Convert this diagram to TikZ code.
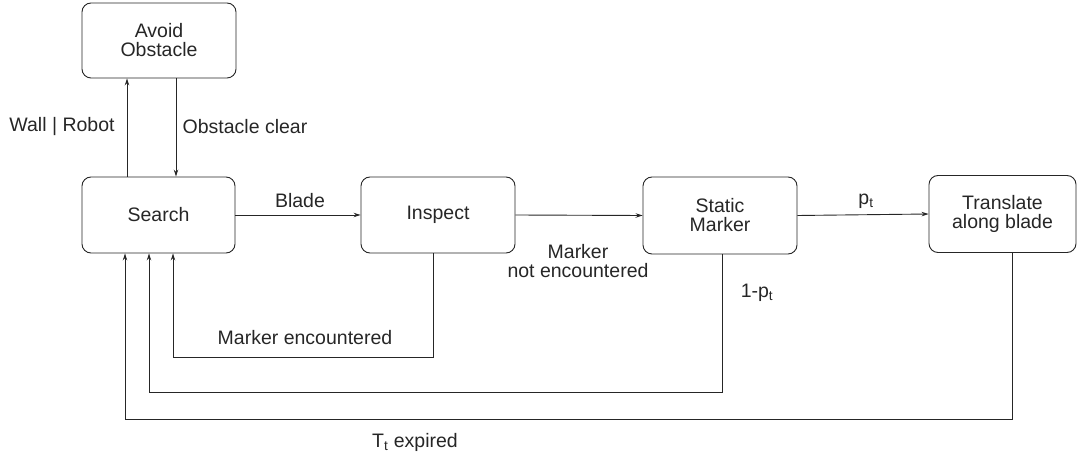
\documentclass[tikz,border=0pt]{standalone}
\usepackage{fontspec}
\setmainfont{Liberation Sans}
\usetikzlibrary{arrows.meta,calc}
\begin{document}
\begin{tikzpicture}[x=1pt,y=-1pt,
  font=\fontsize{19.5}{22}\selectfont,
  state/.style={draw=black!85,line width=0.9pt,rounded corners=9pt,align=center,inner sep=0pt,text=black!85},
  lbl/.style={align=center,inner sep=0pt,text=black!85},
  arr/.style={draw=black!85,line width=0.9pt,-{Stealth[length=7pt,width=4.5pt]}}]
\useasboundingbox (0,0) rectangle (1077,454);
\node[state,minimum width=154pt,minimum height=75pt] (avoid) at (159,40.5) {Avoid\\[-3pt]Obstacle};
\node[state,minimum width=153pt,minimum height=76pt] (search) at (158.5,215) {Search};
\node[state,minimum width=154pt,minimum height=76pt] (inspect) at (438,215) {Inspect};
\node[state,minimum width=154pt,minimum height=77pt] (static) at (720,215.5) {Static\\[-3pt]Marker};
\node[state,minimum width=147pt,minimum height=77pt] (trans) at (1002.5,214) {Translate\\[-3pt]along blade};
% vertical arrows
\draw[arr] ([xshift=-31.5pt]search.north) -- ([xshift=-31.5pt]search.north |- avoid.south);
\draw[arr] ([xshift=17pt]avoid.south) -- ([xshift=17pt]avoid.south |- search.north);
\node[lbl] (l1) at (62,127) {Wall | Robot};
\node[lbl] (l2) at (245,127) {Obstacle clear};
% horizontal arrows
\draw[arr] (search.east) -- (inspect.west);
\node[lbl] (l3) at (300,201) {Blade};
\draw[arr] (inspect.east) -- (static.west);
\node[lbl] (l4) at (578,261) {Marker\\[-3pt]not encountered};
\draw[arr] (static.east) -- (trans.west);
\node[lbl] (l5) at (866,201) {p\textsubscript{t}};
% return loops
\coordinate (c1) at (173,357);
\coordinate (c2) at (149,392);
\coordinate (c3) at (125,419);
\draw[arr] ([xshift=-5pt]inspect.south) |- (c1) -- (c1 |- search.south);
\node[lbl] (l6) at (305,338) {Marker encountered};
\draw[arr] ([xshift=2pt]static.south) |- (c2) -- (c2 |- search.south);
\node[lbl] (l7) at (757,293) {1-p\textsubscript{t}};
\draw[arr] ([xshift=9.5pt]trans.south) |- (c3) -- (c3 |- search.south);
\node[lbl] (l8) at (415,442) {T\textsubscript{t} expired};
\end{tikzpicture}
\end{document}
